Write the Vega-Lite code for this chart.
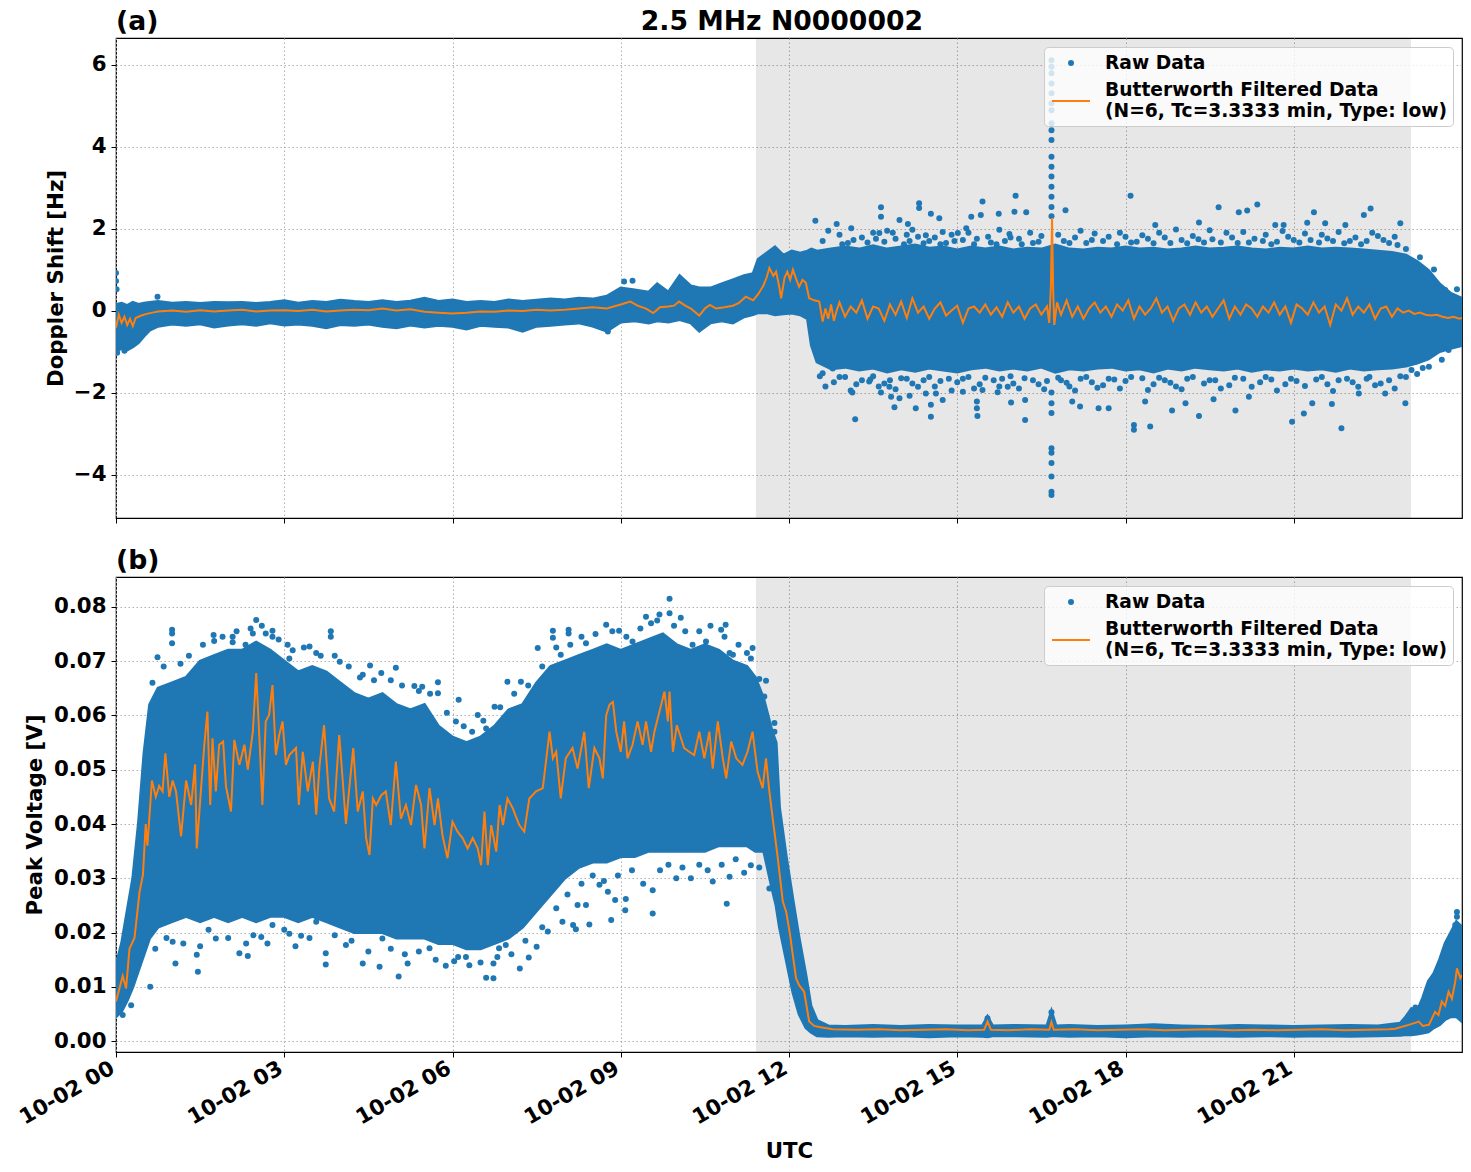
{
  "$schema": "https://vega.github.io/schema/vega-lite/v6.json",
  "background": "white",
  "padding": {"left": 15, "top": 8, "right": 8, "bottom": 5},
  "title": {"text": "2.5 MHz N0000002", "anchor": "middle", "offset": -27, "dx": 43},
  "config": {
    "font": "DejaVu Sans",
    "view": {"stroke": "black", "strokeWidth": 1.2},
    "title": {"font": "DejaVu Sans", "fontWeight": "bold", "fontSize": 26.67, "color": "black"},
    "axis": {
      "labelFont": "DejaVu Sans", "labelFontWeight": "bold", "labelFontSize": 21.33, "labelColor": "black",
      "titleFont": "DejaVu Sans", "titleFontWeight": "bold", "titleFontSize": 21.33, "titleColor": "black",
      "domain": false, "tickColor": "black", "tickSize": 5, "tickWidth": 1, "labelPadding": 5,
      "grid": true, "gridColor": "#b0b0b0", "gridDash": [1.5, 2.5], "gridWidth": 1, "gridOpacity": 1
    },
    "legend": {
      "labelFont": "DejaVu Sans", "labelFontWeight": "bold", "labelFontSize": 18.67, "labelColor": "black"
    }
  },
  "resolve": {"scale": {"color": "independent"}},
  "spacing": 22,
  "datasets": {
    "shade": [{"hour": 11.41, "hourEnd": 23.09}],
    "topBand": [
      {"hour":0,"low":-1.0,"high":0.15},{"hour":0.1,"low":-0.92,"high":0.18},{"hour":0.2,"low":-0.96,"high":0.12},{"hour":0.3,"low":-0.88,"high":0.2},{"hour":0.4,"low":-0.78,"high":0.15},{"hour":0.5,"low":-0.62,"high":0.18},{"hour":0.6,"low":-0.48,"high":0.2},{"hour":0.75,"low":-0.38,"high":0.22},{"hour":1.0,"low":-0.33,"high":0.18},{"hour":1.25,"low":-0.36,"high":0.2},{"hour":1.5,"low":-0.32,"high":0.17},{"hour":1.75,"low":-0.4,"high":0.2},{"hour":2.0,"low":-0.35,"high":0.19},{"hour":2.25,"low":-0.32,"high":0.2},{"hour":2.5,"low":-0.36,"high":0.17},{"hour":2.75,"low":-0.3,"high":0.2},{"hour":3.0,"low":-0.35,"high":0.24},{"hour":3.25,"low":-0.33,"high":0.18},{"hour":3.5,"low":-0.36,"high":0.22},{"hour":3.75,"low":-0.42,"high":0.2},{"hour":4.0,"low":-0.34,"high":0.25},{"hour":4.25,"low":-0.36,"high":0.22},{"hour":4.5,"low":-0.33,"high":0.2},{"hour":4.75,"low":-0.38,"high":0.24},{"hour":5.0,"low":-0.42,"high":0.2},{"hour":5.25,"low":-0.35,"high":0.23},{"hour":5.5,"low":-0.4,"high":0.3},{"hour":5.75,"low":-0.36,"high":0.22},{"hour":6.0,"low":-0.38,"high":0.26},{"hour":6.25,"low":-0.45,"high":0.2},{"hour":6.5,"low":-0.36,"high":0.22},{"hour":6.75,"low":-0.38,"high":0.2},{"hour":7.0,"low":-0.4,"high":0.26},{"hour":7.25,"low":-0.5,"high":0.22},{"hour":7.5,"low":-0.38,"high":0.25},{"hour":7.75,"low":-0.36,"high":0.28},{"hour":8.0,"low":-0.33,"high":0.26},{"hour":8.25,"low":-0.3,"high":0.3},{"hour":8.5,"low":-0.38,"high":0.28},{"hour":8.75,"low":-0.5,"high":0.35},{"hour":9.0,"low":-0.28,"high":0.55},{"hour":9.25,"low":-0.25,"high":0.5},{"hour":9.5,"low":-0.3,"high":0.45},{"hour":9.65,"low":-0.25,"high":0.65},{"hour":9.85,"low":-0.28,"high":0.45},{"hour":10.05,"low":-0.22,"high":0.85},{"hour":10.25,"low":-0.3,"high":0.6},{"hour":10.4,"low":-0.5,"high":0.55},{"hour":10.6,"low":-0.3,"high":0.55},{"hour":10.8,"low":-0.25,"high":0.65},{"hour":11.0,"low":-0.3,"high":0.75},{"hour":11.2,"low":-0.15,"high":0.85},{"hour":11.36,"low":-0.1,"high":0.9},{"hour":11.45,"low":-0.05,"high":1.25},{"hour":11.6,"low":-0.05,"high":1.4},{"hour":11.75,"low":-0.1,"high":1.55},{"hour":11.9,"low":-0.08,"high":1.35},{"hour":12.05,"low":-0.06,"high":1.45},{"hour":12.2,"low":-0.1,"high":1.4},{"hour":12.33,"low":-0.2,"high":1.45},{"hour":12.4,"low":-0.85,"high":1.5},{"hour":12.5,"low":-1.25,"high":1.45},{"hour":12.75,"low":-1.42,"high":1.5},{"hour":13.0,"low":-1.38,"high":1.55},{"hour":13.25,"low":-1.45,"high":1.5},{"hour":13.5,"low":-1.4,"high":1.58},{"hour":13.75,"low":-1.5,"high":1.5},{"hour":14.0,"low":-1.42,"high":1.55},{"hour":14.25,"low":-1.48,"high":1.6},{"hour":14.5,"low":-1.4,"high":1.52},{"hour":14.75,"low":-1.45,"high":1.55},{"hour":15.0,"low":-1.5,"high":1.48},{"hour":15.25,"low":-1.42,"high":1.55},{"hour":15.5,"low":-1.38,"high":1.5},{"hour":15.75,"low":-1.45,"high":1.55},{"hour":16.0,"low":-1.4,"high":1.48},{"hour":16.25,"low":-1.45,"high":1.52},{"hour":16.5,"low":-1.38,"high":1.5},{"hour":16.75,"low":-1.5,"high":1.6},{"hour":17.0,"low":-1.42,"high":1.5},{"hour":17.25,"low":-1.45,"high":1.48},{"hour":17.5,"low":-1.4,"high":1.52},{"hour":17.75,"low":-1.38,"high":1.5},{"hour":18.0,"low":-1.45,"high":1.55},{"hour":18.25,"low":-1.42,"high":1.5},{"hour":18.5,"low":-1.5,"high":1.52},{"hour":18.75,"low":-1.4,"high":1.48},{"hour":19.0,"low":-1.45,"high":1.5},{"hour":19.25,"low":-1.38,"high":1.55},{"hour":19.5,"low":-1.42,"high":1.5},{"hour":19.75,"low":-1.45,"high":1.52},{"hour":20.0,"low":-1.4,"high":1.55},{"hour":20.25,"low":-1.48,"high":1.5},{"hour":20.5,"low":-1.42,"high":1.48},{"hour":20.75,"low":-1.45,"high":1.52},{"hour":21.0,"low":-1.4,"high":1.5},{"hour":21.25,"low":-1.45,"high":1.55},{"hour":21.5,"low":-1.42,"high":1.5},{"hour":21.75,"low":-1.48,"high":1.52},{"hour":22.0,"low":-1.4,"high":1.5},{"hour":22.25,"low":-1.45,"high":1.48},{"hour":22.5,"low":-1.42,"high":1.45},{"hour":22.75,"low":-1.4,"high":1.42},{"hour":23.0,"low":-1.35,"high":1.35},{"hour":23.2,"low":-1.28,"high":1.2},{"hour":23.4,"low":-1.18,"high":0.98},{"hour":23.6,"low":-1.0,"high":0.65},{"hour":23.8,"low":-0.92,"high":0.42},{"hour":24.0,"low":-0.85,"high":0.3}
    ],
    "topPoints": [
      {"hour":0,"value":0.92},{"hour":0,"value":0.72},{"hour":0.01,"value":0.52},{"hour":0.74,"value":0.34},{"hour":0.02,"value":-1.03},{"hour":0.15,"value":-0.98},{"hour":9.06,"value":0.71},{"hour":9.21,"value":0.73},{"hour":8.77,"value":-0.51},
      {"hour":13.64,"value":2.52},{"hour":14.32,"value":2.62},{"hour":14.32,"value":2.5},{"hour":15.45,"value":2.66},{"hour":12.47,"value":2.19},{"hour":12.85,"value":2.11},{"hour":13.97,"value":2.21},{"hour":14.12,"value":2.11},{"hour":14.53,"value":2.36},{"hour":14.68,"value":2.25},{"hour":15.25,"value":2.29},{"hour":15.42,"value":2.33},{"hour":15.74,"value":2.36},{"hour":16.02,"value":2.41},{"hour":13.64,"value":2.29},{"hour":13.11,"value":2.01},{"hour":13.61,"value":1.89},{"hour":13.85,"value":1.9},{"hour":14.2,"value":1.97},{"hour":14.44,"value":1.84},{"hour":14.74,"value":1.92},{"hour":15.01,"value":1.89},{"hour":15.16,"value":2.01},{"hour":15.75,"value":1.97},{"hour":15.93,"value":1.87},
      {"hour":13.18,"value":-2.65},{"hour":13.82,"value":-2.1},{"hour":13.88,"value":-2.36},{"hour":14.26,"value":-2.38},{"hour":14.53,"value":-2.3},{"hour":14.53,"value":-2.59},{"hour":14.74,"value":-2.18},{"hour":15.35,"value":-2.22},{"hour":15.35,"value":-2.38},{"hour":15.36,"value":-2.57},{"hour":15.96,"value":-2.24},{"hour":13.13,"value":-2.0},{"hour":13.64,"value":-2.0},{"hour":13.97,"value":-2.14},{"hour":14.15,"value":-2.08},{"hour":14.44,"value":-2.02},{"hour":14.62,"value":-2.02},{"hour":15.1,"value":-1.98},{"hour":15.45,"value":-1.94},{"hour":15.72,"value":-1.99},{"hour":15.9,"value":-1.86},{"hour":12.6,"value":-1.53},{"hour":12.78,"value":-1.41},{"hour":13.43,"value":-1.73},{"hour":13.79,"value":-1.86},
      {"hour":16.04,"value":2.8},{"hour":18.09,"value":2.8},{"hour":19.66,"value":2.52},{"hour":20.02,"value":2.4},{"hour":20.17,"value":2.44},{"hour":20.35,"value":2.59},{"hour":22.25,"value":2.33},{"hour":22.37,"value":2.49},{"hour":21.36,"value":2.4},{"hour":22.9,"value":2.13},{"hour":16.23,"value":2.4},{"hour":16.93,"value":2.45},{"hour":18.53,"value":2.09},{"hour":19.31,"value":2.15},{"hour":20.67,"value":2.09},{"hour":20.82,"value":2.09},{"hour":21.24,"value":2.14},{"hour":21.56,"value":2.13},{"hour":21.92,"value":2.09},{"hour":23.91,"value":0.52},{"hour":23.7,"value":0.5},
      {"hour":16.21,"value":-2.67},{"hour":17.19,"value":-2.34},{"hour":17.52,"value":-2.38},{"hour":17.7,"value":-2.38},{"hour":18.15,"value":-2.79},{"hour":18.15,"value":-2.91},{"hour":18.44,"value":-2.83},{"hour":18.83,"value":-2.44},{"hour":19.31,"value":-2.57},{"hour":19.57,"value":-2.16},{"hour":19.96,"value":-2.44},{"hour":20.97,"value":-2.71},{"hour":21.18,"value":-2.51},{"hour":21.85,"value":-2.87},{"hour":21.68,"value":-2.28},{"hour":22.99,"value":-2.26},{"hour":16.21,"value":-2.18},{"hour":17.05,"value":-2.22},{"hour":18.35,"value":-2.22},{"hour":19.07,"value":-2.26},{"hour":20.2,"value":-2.1},{"hour":21.33,"value":-2.26},{"hour":22.16,"value":-2.02},{"hour":22.63,"value":-2.02},{"hour":23.41,"value":-1.37},{"hour":23.64,"value":-1.2},{"hour":23.76,"value":-0.96},
      {"hour":16.68,"value":6.11},{"hour":16.68,"value":5.95},{"hour":16.68,"value":5.79},{"hour":16.68,"value":5.54},{"hour":16.68,"value":5.3},{"hour":16.68,"value":5.06},{"hour":16.68,"value":4.89},{"hour":16.68,"value":4.57},{"hour":16.68,"value":4.4},{"hour":16.68,"value":4.16},{"hour":16.68,"value":3.75},{"hour":16.68,"value":3.51},{"hour":16.68,"value":3.27},{"hour":16.68,"value":3.02},{"hour":16.68,"value":2.78},{"hour":16.68,"value":2.53},{"hour":16.68,"value":2.3},{"hour":16.68,"value":-2.0},{"hour":16.68,"value":-2.26},{"hour":16.68,"value":-2.5},{"hour":16.68,"value":-3.36},{"hour":16.68,"value":-3.47},{"hour":16.68,"value":-3.72},{"hour":16.68,"value":-4.05},{"hour":16.68,"value":-4.42},{"hour":16.68,"value":-4.5},
      {"hour":12.6,"value":1.7},{"hour":12.9,"value":1.85},{"hour":13.05,"value":1.65},{"hour":13.3,"value":1.78},{"hour":13.5,"value":1.9},{"hour":13.7,"value":1.68},{"hour":13.9,"value":1.75},{"hour":14.05,"value":1.62},{"hour":14.3,"value":1.8},{"hour":14.5,"value":1.7},{"hour":14.8,"value":1.65},{"hour":14.9,"value":1.85},{"hour":15.1,"value":1.72},{"hour":15.3,"value":1.62},{"hour":15.55,"value":1.8},{"hour":15.6,"value":1.66},{"hour":15.85,"value":1.7},{"hour":16.1,"value":1.75},{"hour":16.35,"value":1.65},{"hour":16.5,"value":1.82},{"hour":16.9,"value":1.7},{"hour":17.1,"value":1.78},{"hour":17.3,"value":1.65},{"hour":17.45,"value":1.88},{"hour":17.6,"value":1.7},{"hour":17.85,"value":1.62},{"hour":18.0,"value":1.8},{"hour":18.2,"value":1.68},{"hour":18.4,"value":1.75},{"hour":18.6,"value":1.9},{"hour":18.8,"value":1.65},{"hour":19.0,"value":1.72},{"hour":19.2,"value":1.82},{"hour":19.4,"value":1.66},{"hour":19.55,"value":1.74},{"hour":19.8,"value":1.9},{"hour":20.0,"value":1.65},{"hour":20.3,"value":1.75},{"hour":20.5,"value":1.85},{"hour":20.7,"value":1.68},{"hour":20.9,"value":1.8},{"hour":21.1,"value":1.66},{"hour":21.3,"value":1.72},{"hour":21.5,"value":1.85},{"hour":21.7,"value":1.7},{"hour":21.9,"value":1.64},{"hour":22.1,"value":1.78},{"hour":22.3,"value":1.7},{"hour":22.5,"value":1.82},{"hour":22.7,"value":1.65},{"hour":22.85,"value":1.6},{"hour":23.0,"value":1.5},{"hour":23.25,"value":1.3},{"hour":23.5,"value":1.0},
      {"hour":12.7,"value":1.95},{"hour":12.95,"value":1.62},{"hour":13.15,"value":1.72},{"hour":13.4,"value":1.66},{"hour":13.55,"value":1.75},{"hour":13.75,"value":1.95},{"hour":14.1,"value":1.85},{"hour":14.15,"value":1.7},{"hour":14.4,"value":1.64},{"hour":14.6,"value":1.78},{"hour":14.7,"value":1.62},{"hour":14.95,"value":1.7},{"hour":15.2,"value":1.9},{"hour":15.35,"value":1.75},{"hour":15.7,"value":1.62},{"hour":15.95,"value":1.78},{"hour":16.15,"value":1.62},{"hour":16.3,"value":1.9},{"hour":16.45,"value":1.68},{"hour":16.8,"value":1.85},{"hour":17.0,"value":1.65},{"hour":17.2,"value":1.95},{"hour":17.4,"value":1.72},{"hour":17.7,"value":1.8},{"hour":17.9,"value":1.9},{"hour":18.1,"value":1.66},{"hour":18.3,"value":1.84},{"hour":18.5,"value":1.64},{"hour":18.7,"value":1.78},{"hour":18.9,"value":1.98},{"hour":19.1,"value":1.64},{"hour":19.3,"value":1.74},{"hour":19.5,"value":1.96},{"hour":19.7,"value":1.66},{"hour":19.9,"value":1.78},{"hour":20.1,"value":1.92},{"hour":20.2,"value":1.66},{"hour":20.45,"value":1.7},{"hour":20.6,"value":1.62},{"hour":20.8,"value":1.94},{"hour":21.0,"value":1.72},{"hour":21.2,"value":1.88},{"hour":21.45,"value":1.66},{"hour":21.6,"value":1.76},{"hour":21.8,"value":1.92},{"hour":22.0,"value":1.7},{"hour":22.2,"value":1.62},{"hour":22.4,"value":1.9},{"hour":22.6,"value":1.72},{"hour":22.8,"value":1.8},
      {"hour":12.55,"value":-1.6},{"hour":12.8,"value":-1.75},{"hour":13.0,"value":-1.62},{"hour":13.2,"value":-1.8},{"hour":13.45,"value":-1.68},{"hour":13.6,"value":-1.85},{"hour":13.8,"value":-1.7},{"hour":14.0,"value":-1.65},{"hour":14.2,"value":-1.78},{"hour":14.4,"value":-1.7},{"hour":14.6,"value":-1.85},{"hour":14.85,"value":-1.66},{"hour":15.0,"value":-1.75},{"hour":15.2,"value":-1.62},{"hour":15.4,"value":-1.8},{"hour":15.65,"value":-1.7},{"hour":15.8,"value":-1.66},{"hour":16.0,"value":-1.78},{"hour":16.2,"value":-1.65},{"hour":16.45,"value":-1.8},{"hour":16.6,"value":-1.72},{"hour":16.85,"value":-1.7},{"hour":17.0,"value":-1.85},{"hour":17.2,"value":-1.66},{"hour":17.4,"value":-1.75},{"hour":17.6,"value":-1.82},{"hour":17.8,"value":-1.68},{"hour":18.0,"value":-1.72},{"hour":18.3,"value":-1.65},{"hour":18.5,"value":-1.8},{"hour":18.7,"value":-1.7},{"hour":18.9,"value":-1.85},{"hour":19.1,"value":-1.66},{"hour":19.4,"value":-1.78},{"hour":19.6,"value":-1.7},{"hour":19.85,"value":-1.82},{"hour":20.1,"value":-1.66},{"hour":20.4,"value":-1.75},{"hour":20.6,"value":-1.68},{"hour":20.85,"value":-1.8},{"hour":21.05,"value":-1.72},{"hour":21.4,"value":-1.68},{"hour":21.6,"value":-1.8},{"hour":21.8,"value":-1.7},{"hour":22.05,"value":-1.75},{"hour":22.3,"value":-1.66},{"hour":22.45,"value":-1.82},{"hour":22.7,"value":-1.7},{"hour":22.9,"value":-1.6},{"hour":23.1,"value":-1.45},{"hour":23.3,"value":-1.4},
      {"hour":12.65,"value":-1.85},{"hour":12.9,"value":-1.62},{"hour":13.1,"value":-1.95},{"hour":13.3,"value":-1.7},{"hour":13.5,"value":-1.6},{"hour":13.7,"value":-1.78},{"hour":13.9,"value":-1.92},{"hour":14.1,"value":-1.66},{"hour":14.3,"value":-1.86},{"hour":14.5,"value":-1.62},{"hour":14.7,"value":-1.72},{"hour":14.9,"value":-1.95},{"hour":15.1,"value":-1.66},{"hour":15.3,"value":-1.9},{"hour":15.5,"value":-1.64},{"hour":15.75,"value":-1.85},{"hour":15.95,"value":-1.6},{"hour":16.1,"value":-1.9},{"hour":16.35,"value":-1.7},{"hour":16.55,"value":-1.92},{"hour":16.8,"value":-1.64},{"hour":16.95,"value":-1.76},{"hour":17.1,"value":-1.95},{"hour":17.3,"value":-1.62},{"hour":17.5,"value":-1.88},{"hour":17.7,"value":-1.66},{"hour":17.9,"value":-1.9},{"hour":18.1,"value":-1.62},{"hour":18.4,"value":-1.94},{"hour":18.6,"value":-1.64},{"hour":18.8,"value":-1.76},{"hour":19.0,"value":-1.92},{"hour":19.2,"value":-1.62},{"hour":19.5,"value":-1.7},{"hour":19.7,"value":-1.9},{"hour":19.95,"value":-1.64},{"hour":20.25,"value":-1.86},{"hour":20.5,"value":-1.62},{"hour":20.7,"value":-1.95},{"hour":20.95,"value":-1.66},{"hour":21.2,"value":-1.84},{"hour":21.5,"value":-1.62},{"hour":21.7,"value":-1.96},{"hour":21.95,"value":-1.66},{"hour":22.15,"value":-1.86},{"hour":22.35,"value":-1.62},{"hour":22.55,"value":-1.78},{"hour":22.8,"value":-1.9},{"hour":23.0,"value":-1.62},{"hour":23.2,"value":-1.55}
    ],
    "topLine": [
      {"hour":0,"value":-0.42},{"hour":0.05,"value":-0.1},{"hour":0.1,"value":-0.3},{"hour":0.15,"value":-0.15},{"hour":0.2,"value":-0.35},{"hour":0.25,"value":-0.2},{"hour":0.3,"value":-0.38},{"hour":0.35,"value":-0.18},{"hour":0.45,"value":-0.12},{"hour":0.55,"value":-0.08},{"hour":0.65,"value":-0.05},{"hour":0.75,"value":-0.02},{"hour":1.0,"value":0.0},{"hour":1.25,"value":-0.03},{"hour":1.5,"value":0.01},{"hour":1.75,"value":-0.02},{"hour":2.0,"value":0.0},{"hour":2.25,"value":0.02},{"hour":2.5,"value":-0.02},{"hour":2.75,"value":0.0},{"hour":3.0,"value":0.01},{"hour":3.25,"value":-0.01},{"hour":3.5,"value":0.02},{"hour":3.75,"value":-0.02},{"hour":4.0,"value":0.0},{"hour":4.25,"value":0.02},{"hour":4.5,"value":0.01},{"hour":4.75,"value":0.05},{"hour":5.0,"value":0.0},{"hour":5.25,"value":0.03},{"hour":5.5,"value":-0.03},{"hour":5.75,"value":-0.05},{"hour":6.0,"value":-0.07},{"hour":6.25,"value":-0.05},{"hour":6.5,"value":-0.02},{"hour":6.75,"value":-0.03},{"hour":7.0,"value":0.0},{"hour":7.25,"value":-0.01},{"hour":7.5,"value":0.02},{"hour":7.75,"value":0.0},{"hour":8.0,"value":0.02},{"hour":8.25,"value":0.05},{"hour":8.5,"value":0.08},{"hour":8.75,"value":0.05},{"hour":9.0,"value":0.15},{"hour":9.17,"value":0.22},{"hour":9.3,"value":0.12},{"hour":9.45,"value":0.05},{"hour":9.58,"value":-0.06},{"hour":9.7,"value":0.08},{"hour":9.85,"value":0.1},{"hour":9.95,"value":0.12},{"hour":10.04,"value":0.22},{"hour":10.15,"value":0.12},{"hour":10.25,"value":0.05},{"hour":10.4,"value":-0.12},{"hour":10.5,"value":0.05},{"hour":10.59,"value":0.14},{"hour":10.7,"value":0.05},{"hour":10.85,"value":0.08},{"hour":11.0,"value":0.12},{"hour":11.1,"value":0.18},{"hour":11.23,"value":0.34},{"hour":11.36,"value":0.25},{"hour":11.45,"value":0.4},{"hour":11.54,"value":0.6},{"hour":11.6,"value":0.8},{"hour":11.65,"value":1.04},{"hour":11.72,"value":0.85},{"hour":11.77,"value":0.95},{"hour":11.83,"value":0.55},{"hour":11.86,"value":0.3},{"hour":11.92,"value":0.8},{"hour":11.97,"value":0.95},{"hour":12.02,"value":0.75},{"hour":12.07,"value":1.0},{"hour":12.12,"value":0.8},{"hour":12.18,"value":0.58},{"hour":12.24,"value":0.75},{"hour":12.3,"value":0.68},{"hour":12.36,"value":0.3},{"hour":12.45,"value":0.25},{"hour":12.54,"value":0.22},{"hour":12.6,"value":-0.27},{"hour":12.65,"value":0.05},{"hour":12.7,"value":-0.2},{"hour":12.75,"value":0.15},{"hour":12.8,"value":-0.25},{"hour":12.85,"value":0.0},{"hour":12.9,"value":0.2},{"hour":13.0,"value":-0.15},{"hour":13.1,"value":0.1},{"hour":13.2,"value":-0.05},{"hour":13.3,"value":0.25},{"hour":13.4,"value":-0.2},{"hour":13.5,"value":0.1},{"hour":13.6,"value":0.05},{"hour":13.7,"value":-0.25},{"hour":13.8,"value":0.15},{"hour":13.9,"value":-0.1},{"hour":14.0,"value":0.22},{"hour":14.1,"value":-0.18},{"hour":14.2,"value":0.3},{"hour":14.3,"value":-0.05},{"hour":14.4,"value":0.1},{"hour":14.5,"value":-0.2},{"hour":14.6,"value":0.05},{"hour":14.7,"value":0.2},{"hour":14.8,"value":-0.12},{"hour":14.9,"value":0.0},{"hour":15.0,"value":0.12},{"hour":15.1,"value":-0.3},{"hour":15.2,"value":0.05},{"hour":15.3,"value":0.1},{"hour":15.4,"value":-0.05},{"hour":15.5,"value":0.15},{"hour":15.6,"value":-0.1},{"hour":15.7,"value":0.08},{"hour":15.8,"value":-0.15},{"hour":15.9,"value":0.2},{"hour":16.0,"value":-0.05},{"hour":16.1,"value":0.1},{"hour":16.2,"value":-0.2},{"hour":16.3,"value":0.05},{"hour":16.4,"value":0.15},{"hour":16.5,"value":-0.1},{"hour":16.6,"value":0.1},{"hour":16.64,"value":-0.3},{"hour":16.67,"value":0.6},{"hour":16.69,"value":2.26},{"hour":16.71,"value":0.5},{"hour":16.73,"value":-0.35},{"hour":16.78,"value":0.2},{"hour":16.85,"value":-0.1},{"hour":16.95,"value":0.25},{"hour":17.05,"value":-0.15},{"hour":17.15,"value":0.1},{"hour":17.25,"value":-0.2},{"hour":17.35,"value":0.05},{"hour":17.45,"value":0.2},{"hour":17.55,"value":-0.05},{"hour":17.65,"value":0.1},{"hour":17.75,"value":-0.15},{"hour":17.85,"value":0.15},{"hour":17.95,"value":0.0},{"hour":18.05,"value":0.25},{"hour":18.15,"value":-0.2},{"hour":18.25,"value":0.1},{"hour":18.35,"value":-0.1},{"hour":18.45,"value":0.05},{"hour":18.55,"value":0.3},{"hour":18.65,"value":-0.05},{"hour":18.75,"value":0.1},{"hour":18.85,"value":-0.25},{"hour":18.95,"value":0.05},{"hour":19.05,"value":0.15},{"hour":19.15,"value":-0.1},{"hour":19.25,"value":0.2},{"hour":19.35,"value":-0.05},{"hour":19.45,"value":0.1},{"hour":19.55,"value":-0.15},{"hour":19.65,"value":0.05},{"hour":19.75,"value":0.25},{"hour":19.85,"value":-0.2},{"hour":19.95,"value":0.1},{"hour":20.05,"value":-0.1},{"hour":20.15,"value":0.15},{"hour":20.25,"value":0.05},{"hour":20.35,"value":-0.15},{"hour":20.45,"value":0.1},{"hour":20.55,"value":-0.05},{"hour":20.65,"value":0.2},{"hour":20.75,"value":-0.1},{"hour":20.85,"value":0.1},{"hour":20.95,"value":-0.3},{"hour":21.05,"value":0.15},{"hour":21.15,"value":0.05},{"hour":21.25,"value":-0.1},{"hour":21.35,"value":0.2},{"hour":21.45,"value":-0.05},{"hour":21.55,"value":0.1},{"hour":21.65,"value":-0.35},{"hour":21.75,"value":0.15},{"hour":21.85,"value":0.0},{"hour":21.95,"value":0.3},{"hour":22.05,"value":-0.1},{"hour":22.15,"value":0.1},{"hour":22.25,"value":-0.05},{"hour":22.35,"value":0.15},{"hour":22.45,"value":-0.2},{"hour":22.55,"value":0.05},{"hour":22.65,"value":0.1},{"hour":22.75,"value":-0.15},{"hour":22.85,"value":0.05},{"hour":22.95,"value":-0.05},{"hour":23.05,"value":0.0},{"hour":23.15,"value":-0.08},{"hour":23.25,"value":-0.05},{"hour":23.35,"value":-0.1},{"hour":23.45,"value":-0.12},{"hour":23.55,"value":-0.1},{"hour":23.65,"value":-0.15},{"hour":23.75,"value":-0.18},{"hour":23.85,"value":-0.15},{"hour":23.95,"value":-0.2},{"hour":24.0,"value":-0.18}
    ],
    "botBand": [
      {"hour":0,"low":0.0045,"high":0.014},{"hour":0.1,"low":0.0055,"high":0.018},{"hour":0.2,"low":0.0075,"high":0.024},{"hour":0.3,"low":0.01,"high":0.03},{"hour":0.4,"low":0.013,"high":0.04},{"hour":0.5,"low":0.016,"high":0.053},{"hour":0.6,"low":0.019,"high":0.062},{"hour":0.75,"low":0.021,"high":0.065},{"hour":1.0,"low":0.022,"high":0.066},{"hour":1.25,"low":0.023,"high":0.067},{"hour":1.5,"low":0.022,"high":0.07},{"hour":1.75,"low":0.023,"high":0.071},{"hour":2.0,"low":0.022,"high":0.072},{"hour":2.25,"low":0.023,"high":0.072},{"hour":2.5,"low":0.022,"high":0.0735},{"hour":2.75,"low":0.023,"high":0.072},{"hour":3.0,"low":0.023,"high":0.07},{"hour":3.25,"low":0.022,"high":0.068},{"hour":3.5,"low":0.023,"high":0.069},{"hour":3.75,"low":0.022,"high":0.068},{"hour":4.0,"low":0.021,"high":0.066},{"hour":4.25,"low":0.02,"high":0.064},{"hour":4.5,"low":0.02,"high":0.063},{"hour":4.75,"low":0.02,"high":0.064},{"hour":5.0,"low":0.019,"high":0.062},{"hour":5.25,"low":0.019,"high":0.061},{"hour":5.5,"low":0.019,"high":0.062},{"hour":5.75,"low":0.018,"high":0.058},{"hour":6.0,"low":0.018,"high":0.056},{"hour":6.25,"low":0.017,"high":0.055},{"hour":6.5,"low":0.017,"high":0.056},{"hour":6.75,"low":0.018,"high":0.058},{"hour":7.0,"low":0.019,"high":0.061},{"hour":7.25,"low":0.021,"high":0.062},{"hour":7.5,"low":0.024,"high":0.066},{"hour":7.75,"low":0.027,"high":0.069},{"hour":8.0,"low":0.03,"high":0.07},{"hour":8.25,"low":0.032,"high":0.071},{"hour":8.5,"low":0.033,"high":0.072},{"hour":8.75,"low":0.033,"high":0.073},{"hour":9.0,"low":0.034,"high":0.072},{"hour":9.25,"low":0.034,"high":0.073},{"hour":9.5,"low":0.035,"high":0.074},{"hour":9.75,"low":0.035,"high":0.075},{"hour":10.0,"low":0.035,"high":0.073},{"hour":10.25,"low":0.035,"high":0.072},{"hour":10.5,"low":0.035,"high":0.073},{"hour":10.75,"low":0.036,"high":0.072},{"hour":11.0,"low":0.036,"high":0.07},{"hour":11.25,"low":0.036,"high":0.069},{"hour":11.4,"low":0.035,"high":0.067},{"hour":11.55,"low":0.035,"high":0.063},{"hour":11.7,"low":0.028,"high":0.057},{"hour":11.77,"low":0.025,"high":0.055},{"hour":11.83,"low":0.021,"high":0.043},{"hour":11.95,"low":0.015,"high":0.034},{"hour":12.07,"low":0.009,"high":0.026},{"hour":12.18,"low":0.005,"high":0.019},{"hour":12.3,"low":0.0025,"high":0.0122},{"hour":12.39,"low":0.0017,"high":0.0065},{"hour":12.5,"low":0.001,"high":0.0038},{"hour":12.7,"low":0.0009,"high":0.0028},{"hour":13.0,"low":0.001,"high":0.0027},{"hour":13.5,"low":0.0009,"high":0.0029},{"hour":14.0,"low":0.001,"high":0.0027},{"hour":14.5,"low":0.0008,"high":0.0029},{"hour":15.0,"low":0.001,"high":0.0028},{"hour":15.45,"low":0.0009,"high":0.0028},{"hour":15.54,"low":0.0008,"high":0.0045},{"hour":15.63,"low":0.001,"high":0.0028},{"hour":16.0,"low":0.001,"high":0.0029},{"hour":16.6,"low":0.0009,"high":0.0028},{"hour":16.68,"low":0.001,"high":0.0055},{"hour":16.76,"low":0.001,"high":0.0028},{"hour":17.0,"low":0.0009,"high":0.0029},{"hour":17.5,"low":0.001,"high":0.0027},{"hour":18.0,"low":0.0008,"high":0.0028},{"hour":18.5,"low":0.001,"high":0.003},{"hour":19.0,"low":0.0009,"high":0.0028},{"hour":19.5,"low":0.001,"high":0.0027},{"hour":20.0,"low":0.0009,"high":0.0029},{"hour":20.5,"low":0.001,"high":0.0028},{"hour":21.0,"low":0.0009,"high":0.0027},{"hour":21.5,"low":0.001,"high":0.0028},{"hour":22.0,"low":0.0009,"high":0.0029},{"hour":22.5,"low":0.001,"high":0.0028},{"hour":22.9,"low":0.0011,"high":0.0033},{"hour":23.0,"low":0.0012,"high":0.0045},{"hour":23.1,"low":0.0012,"high":0.006},{"hour":23.2,"low":0.0013,"high":0.0055},{"hour":23.3,"low":0.0015,"high":0.008},{"hour":23.4,"low":0.0017,"high":0.011},{"hour":23.5,"low":0.0025,"high":0.0125},{"hour":23.6,"low":0.003,"high":0.015},{"hour":23.7,"low":0.004,"high":0.018},{"hour":23.8,"low":0.0045,"high":0.02},{"hour":23.9,"low":0.0045,"high":0.022},{"hour":24.0,"low":0.0036,"high":0.021}
    ],
    "botPoints": [
      {"hour":1.0,"value":0.0758},{"hour":1.0,"value":0.0751},{"hour":1.0,"value":0.0733},{"hour":0.74,"value":0.0707},{"hour":1.74,"value":0.0748},{"hour":1.75,"value":0.0737},{"hour":2.08,"value":0.0745},{"hour":2.08,"value":0.0735},{"hour":2.31,"value":0.073},{"hour":2.5,"value":0.0776},{"hour":2.44,"value":0.0751},{"hour":2.67,"value":0.0751},{"hour":2.79,"value":0.0756},{"hour":2.79,"value":0.0745},{"hour":3.06,"value":0.073},{"hour":3.45,"value":0.0727},{"hour":3.57,"value":0.0715},{"hour":3.83,"value":0.0755},{"hour":3.83,"value":0.0745},{"hour":3.99,"value":0.0699},{"hour":4.53,"value":0.0692},{"hour":4.73,"value":0.0678},{"hour":4.99,"value":0.0688},{"hour":5.32,"value":0.0654},{"hour":5.46,"value":0.0653},{"hour":5.74,"value":0.0661},{"hour":5.74,"value":0.0641},{"hour":6.11,"value":0.0629},{"hour":6.06,"value":0.0589},{"hour":6.45,"value":0.0601},{"hour":6.6,"value":0.0576},{"hour":6.75,"value":0.0616},{"hour":6.98,"value":0.0662},{"hour":7.22,"value":0.0662},{"hour":7.52,"value":0.0724},{"hour":7.79,"value":0.0756},{"hour":7.79,"value":0.0743},{"hour":7.93,"value":0.0712},{"hour":1.25,"value":0.0665},{"hour":1.37,"value":0.0656},{"hour":3.09,"value":0.0705},{"hour":4.4,"value":0.0675},
      {"hour":0.61,"value":0.01},{"hour":1.06,"value":0.0143},{"hour":1.46,"value":0.0128},{"hour":1.44,"value":0.0159},{"hour":2.35,"value":0.0157},{"hour":2.2,"value":0.0162},{"hour":2.32,"value":0.018},{"hour":2.59,"value":0.0192},{"hour":3.3,"value":0.0194},{"hour":3.74,"value":0.0162},{"hour":3.74,"value":0.0141},{"hour":4.4,"value":0.0143},{"hour":4.7,"value":0.0137},{"hour":5.04,"value":0.0119},{"hour":5.2,"value":0.0143},{"hour":5.88,"value":0.0139},{"hour":6.03,"value":0.0147},{"hour":6.6,"value":0.0117},{"hour":6.73,"value":0.0116},{"hour":6.73,"value":0.0143},{"hour":7.2,"value":0.0134},{"hour":7.36,"value":0.0154},{"hour":7.5,"value":0.0174},{"hour":7.7,"value":0.0202},{"hour":7.96,"value":0.022},{"hour":3.09,"value":0.0198},{"hour":4.1,"value":0.0177},{"hour":5.59,"value":0.0171},{"hour":6.24,"value":0.0155},{"hour":6.95,"value":0.0177},{"hour":1.78,"value":0.0189},{"hour":1.01,"value":0.0183},{"hour":2.79,"value":0.0214},{"hour":3.57,"value":0.022},{"hour":4.75,"value":0.0189},{"hour":6.83,"value":0.0171},{"hour":0.27,"value":0.0066},{"hour":0.12,"value":0.0048},
      {"hour":9.87,"value":0.0815},{"hour":9.69,"value":0.0786},{"hour":9.87,"value":0.0788},{"hour":10.07,"value":0.078},{"hour":10.87,"value":0.0767},{"hour":10.79,"value":0.0758},{"hour":8.07,"value":0.0758},{"hour":8.07,"value":0.0751},{"hour":8.38,"value":0.0733},{"hour":8.97,"value":0.0756},{"hour":11.35,"value":0.0724},{"hour":11.47,"value":0.0667},{"hour":11.59,"value":0.0664},{"hour":11.32,"value":0.0705},{"hour":9.45,"value":0.0782},{"hour":9.54,"value":0.077},{"hour":8.74,"value":0.0767},{"hour":9.21,"value":0.0736},{"hour":10.52,"value":0.0736},{"hour":10.28,"value":0.073},{"hour":10.94,"value":0.0715},{"hour":11.0,"value":0.0712},{"hour":11.56,"value":0.0635},{"hour":11.74,"value":0.0586},{"hour":11.74,"value":0.057},
      {"hour":8.2,"value":0.0206},{"hour":8.44,"value":0.0215},{"hour":8.15,"value":0.0214},{"hour":8.83,"value":0.0223},{"hour":9.08,"value":0.0241},{"hour":9.57,"value":0.0235},{"hour":10.89,"value":0.0253},{"hour":8.9,"value":0.026},{"hour":9.09,"value":0.0262},{"hour":8.77,"value":0.0275},{"hour":9.57,"value":0.0278},{"hour":9.99,"value":0.03},{"hour":10.25,"value":0.03},{"hour":10.64,"value":0.0294},{"hour":10.94,"value":0.0303},{"hour":11.65,"value":0.0281},{"hour":11.32,"value":0.0324},{"hour":11.47,"value":0.032},{"hour":8.23,"value":0.0251},{"hour":8.38,"value":0.0251},{"hour":8.62,"value":0.0288},
      {"hour":23.17,"value":0.0062},{"hour":23.91,"value":0.0238},{"hour":23.91,"value":0.0229},{"hour":23.88,"value":0.0214},{"hour":23.95,"value":0.02},{"hour":16.68,"value":0.0053},{"hour":15.54,"value":0.0042},
      {"hour":0.65,"value":0.066},{"hour":0.85,"value":0.069},{"hour":1.15,"value":0.0695},{"hour":1.3,"value":0.071},{"hour":1.55,"value":0.073},{"hour":1.9,"value":0.0745},{"hour":2.15,"value":0.0755},{"hour":2.4,"value":0.076},{"hour":2.6,"value":0.0765},{"hour":2.9,"value":0.074},{"hour":3.15,"value":0.072},{"hour":3.35,"value":0.0725},{"hour":3.65,"value":0.071},{"hour":3.9,"value":0.071},{"hour":4.15,"value":0.069},{"hour":4.35,"value":0.067},{"hour":4.6,"value":0.0665},{"hour":4.9,"value":0.0665},{"hour":5.1,"value":0.0655},{"hour":5.4,"value":0.0645},{"hour":5.6,"value":0.064},{"hour":5.9,"value":0.0605},{"hour":6.2,"value":0.058},{"hour":6.35,"value":0.057},{"hour":6.55,"value":0.059},{"hour":6.85,"value":0.0615},{"hour":7.1,"value":0.064},{"hour":7.35,"value":0.0655},{"hour":7.6,"value":0.069},{"hour":7.85,"value":0.0725},{"hour":8.1,"value":0.073},{"hour":8.3,"value":0.0745},{"hour":8.55,"value":0.075},{"hour":8.85,"value":0.0755},{"hour":9.1,"value":0.0745},{"hour":9.35,"value":0.076},{"hour":9.65,"value":0.0775},{"hour":9.95,"value":0.0765},{"hour":10.15,"value":0.0755},{"hour":10.4,"value":0.0755},{"hour":10.6,"value":0.0765},{"hour":10.85,"value":0.0745},{"hour":11.1,"value":0.073},{"hour":11.25,"value":0.0715},
      {"hour":0.7,"value":0.017},{"hour":0.9,"value":0.019},{"hour":1.2,"value":0.018},{"hour":1.5,"value":0.0175},{"hour":1.65,"value":0.0205},{"hour":2.0,"value":0.019},{"hour":2.45,"value":0.0195},{"hour":2.7,"value":0.018},{"hour":3.0,"value":0.0205},{"hour":3.2,"value":0.0175},{"hour":3.45,"value":0.019},{"hour":3.9,"value":0.0195},{"hour":4.2,"value":0.0185},{"hour":4.5,"value":0.0165},{"hour":4.9,"value":0.017},{"hour":5.15,"value":0.016},{"hour":5.4,"value":0.0165},{"hour":5.7,"value":0.015},{"hour":6.1,"value":0.0155},{"hour":6.3,"value":0.014},{"hour":6.5,"value":0.0145},{"hour":6.8,"value":0.0155},{"hour":7.05,"value":0.016},{"hour":7.3,"value":0.0185},{"hour":7.6,"value":0.021},{"hour":7.85,"value":0.0245},{"hour":8.05,"value":0.027},{"hour":8.3,"value":0.029},{"hour":8.5,"value":0.0305},{"hour":8.7,"value":0.0295},{"hour":8.95,"value":0.0305},{"hour":9.2,"value":0.0315},{"hour":9.4,"value":0.029},{"hour":9.7,"value":0.0315},{"hour":9.85,"value":0.0325},{"hour":10.1,"value":0.032},{"hour":10.4,"value":0.0325},{"hour":10.55,"value":0.0315},{"hour":10.8,"value":0.0325},{"hour":11.05,"value":0.0335},{"hour":11.2,"value":0.031}
    ],
    "botLine": [
      {"hour":0,"value":0.0073},{"hour":0.12,"value":0.012},{"hour":0.18,"value":0.0097},{"hour":0.24,"value":0.017},{"hour":0.33,"value":0.019},{"hour":0.42,"value":0.0275},{"hour":0.48,"value":0.0306},{"hour":0.53,"value":0.04},{"hour":0.56,"value":0.036},{"hour":0.64,"value":0.048},{"hour":0.71,"value":0.045},{"hour":0.77,"value":0.047},{"hour":0.83,"value":0.046},{"hour":0.88,"value":0.053},{"hour":0.95,"value":0.045},{"hour":1.01,"value":0.048},{"hour":1.07,"value":0.046},{"hour":1.16,"value":0.0377},{"hour":1.25,"value":0.048},{"hour":1.34,"value":0.0435},{"hour":1.41,"value":0.051},{"hour":1.44,"value":0.0355},{"hour":1.52,"value":0.047},{"hour":1.575,"value":0.0546},{"hour":1.63,"value":0.0607},{"hour":1.68,"value":0.0435},{"hour":1.72,"value":0.0558},{"hour":1.78,"value":0.046},{"hour":1.84,"value":0.0546},{"hour":1.91,"value":0.0552},{"hour":1.96,"value":0.047},{"hour":2.05,"value":0.0423},{"hour":2.11,"value":0.0555},{"hour":2.2,"value":0.0509},{"hour":2.29,"value":0.0546},{"hour":2.35,"value":0.05},{"hour":2.44,"value":0.057},{"hour":2.5,"value":0.0678},{"hour":2.56,"value":0.0552},{"hour":2.61,"value":0.0435},{"hour":2.67,"value":0.0589},{"hour":2.73,"value":0.0601},{"hour":2.79,"value":0.0656},{"hour":2.85,"value":0.0527},{"hour":2.91,"value":0.0564},{"hour":2.97,"value":0.0589},{"hour":3.03,"value":0.0509},{"hour":3.09,"value":0.0527},{"hour":3.21,"value":0.054},{"hour":3.26,"value":0.0435},{"hour":3.33,"value":0.0533},{"hour":3.42,"value":0.046},{"hour":3.51,"value":0.0515},{"hour":3.57,"value":0.0417},{"hour":3.63,"value":0.0509},{"hour":3.71,"value":0.0582},{"hour":3.8,"value":0.0447},{"hour":3.89,"value":0.0423},{"hour":3.98,"value":0.0564},{"hour":4.04,"value":0.0484},{"hour":4.1,"value":0.04},{"hour":4.16,"value":0.0466},{"hour":4.23,"value":0.054},{"hour":4.31,"value":0.0423},{"hour":4.4,"value":0.046},{"hour":4.46,"value":0.0374},{"hour":4.52,"value":0.0343},{"hour":4.58,"value":0.0447},{"hour":4.64,"value":0.0435},{"hour":4.73,"value":0.0453},{"hour":4.81,"value":0.046},{"hour":4.9,"value":0.0398},{"hour":4.99,"value":0.0515},{"hour":5.08,"value":0.041},{"hour":5.17,"value":0.0435},{"hour":5.26,"value":0.0398},{"hour":5.35,"value":0.0472},{"hour":5.44,"value":0.0435},{"hour":5.5,"value":0.0355},{"hour":5.59,"value":0.0466},{"hour":5.68,"value":0.0398},{"hour":5.74,"value":0.0447},{"hour":5.82,"value":0.038},{"hour":5.91,"value":0.0337},{"hour":6.0,"value":0.0404},{"hour":6.09,"value":0.0386},{"hour":6.18,"value":0.0374},{"hour":6.27,"value":0.0355},{"hour":6.36,"value":0.0374},{"hour":6.45,"value":0.0355},{"hour":6.51,"value":0.0324},{"hour":6.57,"value":0.0423},{"hour":6.63,"value":0.0324},{"hour":6.69,"value":0.0398},{"hour":6.78,"value":0.0349},{"hour":6.84,"value":0.0435},{"hour":6.9,"value":0.0398},{"hour":6.98,"value":0.0447},{"hour":7.07,"value":0.043},{"hour":7.19,"value":0.0398},{"hour":7.28,"value":0.0386},{"hour":7.37,"value":0.0447},{"hour":7.49,"value":0.046},{"hour":7.61,"value":0.0466},{"hour":7.73,"value":0.057},{"hour":7.79,"value":0.0521},{"hour":7.85,"value":0.0533},{"hour":7.93,"value":0.0447},{"hour":8.02,"value":0.0521},{"hour":8.14,"value":0.054},{"hour":8.23,"value":0.0502},{"hour":8.35,"value":0.057},{"hour":8.43,"value":0.0466},{"hour":8.53,"value":0.054},{"hour":8.62,"value":0.0521},{"hour":8.68,"value":0.0484},{"hour":8.74,"value":0.06},{"hour":8.8,"value":0.062},{"hour":8.86,"value":0.0625},{"hour":8.92,"value":0.057},{"hour":9.0,"value":0.0533},{"hour":9.06,"value":0.0589},{"hour":9.12,"value":0.0521},{"hour":9.21,"value":0.0546},{"hour":9.3,"value":0.0589},{"hour":9.39,"value":0.0546},{"hour":9.45,"value":0.0589},{"hour":9.54,"value":0.0533},{"hour":9.6,"value":0.057},{"hour":9.69,"value":0.0607},{"hour":9.78,"value":0.0644},{"hour":9.84,"value":0.0589},{"hour":9.87,"value":0.0644},{"hour":9.93,"value":0.0533},{"hour":10.0,"value":0.0582},{"hour":10.13,"value":0.054},{"hour":10.22,"value":0.0533},{"hour":10.31,"value":0.0527},{"hour":10.4,"value":0.057},{"hour":10.49,"value":0.0521},{"hour":10.58,"value":0.057},{"hour":10.64,"value":0.0502},{"hour":10.73,"value":0.0589},{"hour":10.82,"value":0.0521},{"hour":10.88,"value":0.0484},{"hour":10.97,"value":0.0552},{"hour":11.06,"value":0.0521},{"hour":11.17,"value":0.0509},{"hour":11.26,"value":0.0533},{"hour":11.35,"value":0.057},{"hour":11.44,"value":0.0496},{"hour":11.53,"value":0.0466},{"hour":11.59,"value":0.0521},{"hour":11.65,"value":0.046},{"hour":11.71,"value":0.041},{"hour":11.8,"value":0.0337},{"hour":11.89,"value":0.0257},{"hour":11.95,"value":0.0238},{"hour":12.01,"value":0.0202},{"hour":12.125,"value":0.0116},{"hour":12.18,"value":0.0103},{"hour":12.27,"value":0.0091},{"hour":12.36,"value":0.0036},{"hour":12.45,"value":0.0028},{"hour":12.54,"value":0.0026},{"hour":12.78,"value":0.0022},{"hour":13.2,"value":0.0021},{"hour":13.6,"value":0.0022},{"hour":14.0,"value":0.002},{"hour":14.4,"value":0.0021},{"hour":14.8,"value":0.0022},{"hour":15.2,"value":0.002},{"hour":15.48,"value":0.0021},{"hour":15.54,"value":0.0036},{"hour":15.6,"value":0.0021},{"hour":15.9,"value":0.002},{"hour":16.3,"value":0.0022},{"hour":16.64,"value":0.0021},{"hour":16.68,"value":0.0035},{"hour":16.72,"value":0.0021},{"hour":17.1,"value":0.0022},{"hour":17.5,"value":0.002},{"hour":17.9,"value":0.0021},{"hour":18.3,"value":0.0022},{"hour":18.7,"value":0.002},{"hour":19.1,"value":0.0021},{"hour":19.5,"value":0.0022},{"hour":19.9,"value":0.002},{"hour":20.3,"value":0.0021},{"hour":20.7,"value":0.002},{"hour":21.1,"value":0.0021},{"hour":21.5,"value":0.0022},{"hour":21.9,"value":0.002},{"hour":22.3,"value":0.0021},{"hour":22.7,"value":0.0022},{"hour":22.81,"value":0.0023},{"hour":23.05,"value":0.003},{"hour":23.23,"value":0.0036},{"hour":23.3,"value":0.0028},{"hour":23.41,"value":0.003},{"hour":23.52,"value":0.0054},{"hour":23.58,"value":0.0048},{"hour":23.64,"value":0.0073},{"hour":23.7,"value":0.0065},{"hour":23.76,"value":0.0091},{"hour":23.82,"value":0.0078},{"hour":23.88,"value":0.011},{"hour":23.91,"value":0.0134},{"hour":23.97,"value":0.0116},{"hour":24.0,"value":0.0122}
    ]
  },
  "vconcat": [
    {
      "width": 1346,
      "height": 480,
      "title": {"text": "(a)", "anchor": "start", "frame": "group", "offset": 2},
      "encoding": {
        "x": {"field": "hour", "type": "quantitative", "scale": {"domain": [0, 24], "nice": false, "zero": false},
              "axis": {"values": [0, 3, 6, 9, 12, 15, 18, 21], "labels": false, "title": null}}
      },
      "layer": [
        {"data": {"name": "shade"}, "mark": {"type": "rect", "color": "black", "opacity": 0.095},
         "encoding": {"x2": {"field": "hourEnd"}}},
        {"data": {"name": "topBand"}, "mark": {"type": "area", "color": "#1f77b4", "stroke": "#1f77b4", "strokeWidth": 3, "opacity": 1, "clip": true},
         "encoding": {
           "y": {"field": "low", "type": "quantitative", "title": "Doppler Shift [Hz]", "scale": {"domain": [-5.06, 6.65], "nice": false, "zero": false}, "axis": {"values": [-4, -2, 0, 2, 4, 6], "titlePadding": 7}},
           "y2": {"field": "high"}}},
        {"data": {"name": "topPoints"}, "mark": {"type": "point", "filled": true, "size": 36, "opacity": 1, "clip": true},
         "encoding": {
           "y": {"field": "value", "type": "quantitative", "title": "Doppler Shift [Hz]"},
           "color": {"datum": "Raw Data", "type": "nominal",
             "scale": {"domain": ["Raw Data", "Butterworth Filtered Data"], "range": ["#1f77b4", "#ff7f0e"]},
             "legend": {"title": null, "orient": "top-right", "offset": 9, "fillColor": "rgba(255,255,255,0.8)", "strokeColor": "#cccccc", "cornerRadius": 4, "padding": 5, "labelLimit": 600, "labelOffset": 23, "symbolSize": 400, "symbolOffset": 11, "rowPadding": 6, "symbolStrokeWidth": 2,
               "symbolType": {"expr": "datum.value == 'Raw Data' ? 'M-0.2,0A0.2,0.2 0 1,0 0.2,0A0.2,0.2 0 1,0 -0.2,0Z' : 'M-1.9,1.1H1.9'"},
               "symbolFillColor": {"expr": "datum.value == 'Raw Data' ? '#1f77b4' : 'transparent'"},
               "symbolStrokeColor": {"expr": "datum.value == 'Raw Data' ? '#1f77b4' : '#ff7f0e'"},
               "labelExpr": "datum.value == 'Raw Data' ? 'Raw Data' : ['Butterworth Filtered Data', '(N=6, Tc=3.3333 min, Type: low)']"}}}},
        {"data": {"name": "topLine"}, "mark": {"type": "line", "strokeWidth": 2, "clip": true},
         "encoding": {
           "y": {"field": "value", "type": "quantitative", "title": "Doppler Shift [Hz]"},
           "color": {"datum": "Butterworth Filtered Data", "type": "nominal"}}}
      ]
    },
    {
      "width": 1346,
      "height": 475,
      "title": {"text": "(b)", "anchor": "start", "frame": "group", "offset": 2},
      "encoding": {
        "x": {"field": "hour", "type": "quantitative", "title": "UTC", "scale": {"domain": [0, 24], "nice": false, "zero": false},
              "axis": {"values": [0, 3, 6, 9, 12, 15, 18, 21], "labelAngle": -30, "labelAlign": "right", "labelBaseline": "top", "labelPadding": 0, "labelOffset": -9,
                       "labelExpr": "'10-02 ' + (datum.value < 10 ? '0' : '') + datum.value", "titlePadding": 12}}
      },
      "layer": [
        {"data": {"name": "shade"}, "mark": {"type": "rect", "color": "black", "opacity": 0.095},
         "encoding": {"x2": {"field": "hourEnd"}}},
        {"data": {"name": "botBand"}, "mark": {"type": "area", "color": "#1f77b4", "stroke": "#1f77b4", "strokeWidth": 3, "opacity": 1, "clip": true},
         "encoding": {
           "y": {"field": "low", "type": "quantitative", "title": "Peak Voltage [V]", "scale": {"domain": [-0.002, 0.0855], "nice": false, "zero": false}, "axis": {"values": [0, 0.01, 0.02, 0.03, 0.04, 0.05, 0.06, 0.07, 0.08], "format": ".2f", "titlePadding": 8}},
           "y2": {"field": "high"}}},
        {"data": {"name": "botPoints"}, "mark": {"type": "point", "filled": true, "size": 36, "opacity": 1, "clip": true},
         "encoding": {
           "y": {"field": "value", "type": "quantitative", "title": "Peak Voltage [V]"},
           "color": {"datum": "Raw Data", "type": "nominal",
             "scale": {"domain": ["Raw Data", "Butterworth Filtered Data"], "range": ["#1f77b4", "#ff7f0e"]},
             "legend": {"title": null, "orient": "top-right", "offset": 9, "fillColor": "rgba(255,255,255,0.8)", "strokeColor": "#cccccc", "cornerRadius": 4, "padding": 5, "labelLimit": 600, "labelOffset": 23, "symbolSize": 400, "symbolOffset": 11, "rowPadding": 6, "symbolStrokeWidth": 2,
               "symbolType": {"expr": "datum.value == 'Raw Data' ? 'M-0.2,0A0.2,0.2 0 1,0 0.2,0A0.2,0.2 0 1,0 -0.2,0Z' : 'M-1.9,1.1H1.9'"},
               "symbolFillColor": {"expr": "datum.value == 'Raw Data' ? '#1f77b4' : 'transparent'"},
               "symbolStrokeColor": {"expr": "datum.value == 'Raw Data' ? '#1f77b4' : '#ff7f0e'"},
               "labelExpr": "datum.value == 'Raw Data' ? 'Raw Data' : ['Butterworth Filtered Data', '(N=6, Tc=3.3333 min, Type: low)']"}}}},
        {"data": {"name": "botLine"}, "mark": {"type": "line", "strokeWidth": 2, "clip": true},
         "encoding": {
           "y": {"field": "value", "type": "quantitative", "title": "Peak Voltage [V]"},
           "color": {"datum": "Butterworth Filtered Data", "type": "nominal"}}}
      ]
    }
  ]
}
